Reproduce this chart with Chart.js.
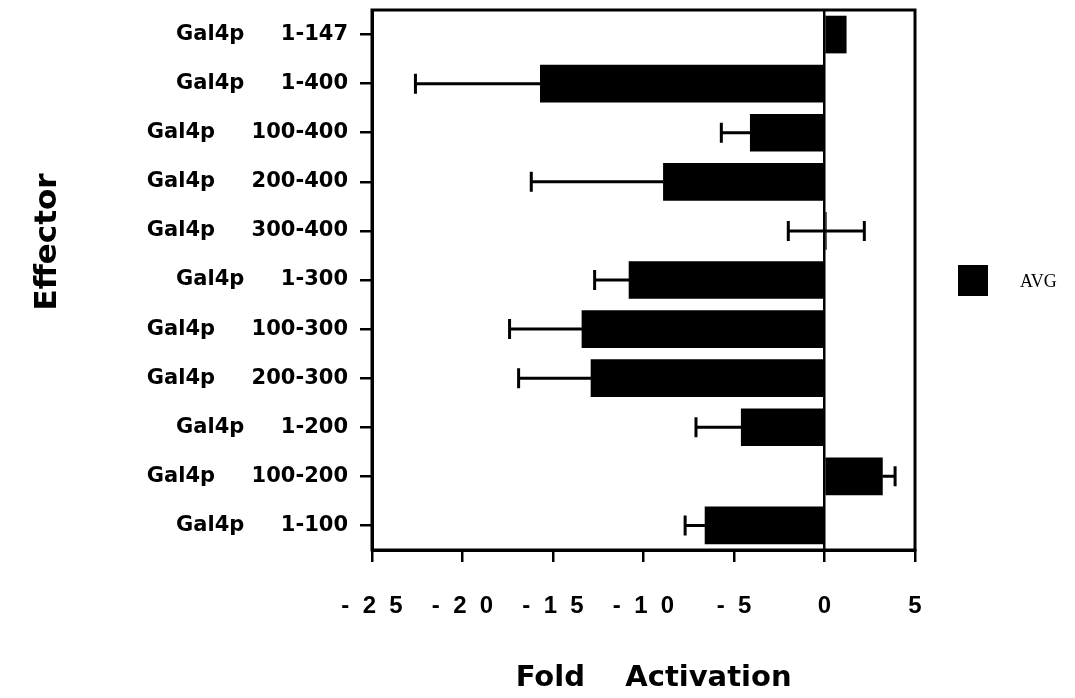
<!DOCTYPE html>
<html>
<head>
<meta charset="utf-8">
<script src="https://cdn.jsdelivr.net/npm/chart.js@4.4.1/dist/chart.umd.min.js"></script>
<style>
  body { margin: 0; background: #fff; }
  #wrap { width: 1075px; height: 698px; }
</style>
</head>
<body>
<div id="wrap"><canvas id="chart" width="1075" height="698"></canvas></div>
<script>
// effector constructs, top to bottom
const effectors = [
    'Gal4p     1-147',
    'Gal4p     1-400',
    'Gal4p     100-400',
    'Gal4p     200-400',
    'Gal4p     300-400',
    'Gal4p     1-300',
    'Gal4p     100-300',
    'Gal4p     200-300',
    'Gal4p     1-200',
    'Gal4p     100-200',
    'Gal4p     1-100'
];
// average fold activation
const avgValues = [1.2, -15.7, -4.1, -8.9, 0.1, -10.8, -13.4, -12.9, -4.6, 3.2, -6.6];
// error bar lengths (left side / right side)
const errMinus = [0, 6.9, 1.6, 7.3, 2.1, 1.9, 4.0, 4.0, 2.5, 0, 1.1];
const errPlus  = [0, 0, 0, 0, 2.1, 0, 0, 0, 0, 0.7, 0];
// x axis ticks as printed
const xTickText = {
    '-25': '-  2  5', '-20': '-  2  0', '-15': '-  1  5', '-10': '-  1  0',
    '-5': '-  5', '0': '0', '5': '5'
};

const boldFont = "'DejaVu Sans', sans-serif";
const helvFont = "'Liberation Sans', Arial, sans-serif";

// frame, error bars, legend and the y title
const extras = {
    id: 'extras',
    afterDatasetsDraw(chart) {
        const ctx = chart.ctx;
        const xs = chart.scales.x;
        const meta = chart.getDatasetMeta(0);
        ctx.save();
        ctx.strokeStyle = '#000';
        ctx.lineWidth = 3;
        meta.data.forEach((bar, i) => {
            const v = avgValues[i];
            const y = bar.y;
            const ends = [];
            if (errMinus[i] > 0) ends.push(v - errMinus[i]);
            if (errPlus[i] > 0) ends.push(v + errPlus[i]);
            ends.forEach(e => {
                const x0 = xs.getPixelForValue(v);
                const x1 = xs.getPixelForValue(e);
                ctx.beginPath();
                ctx.moveTo(x0, y);
                ctx.lineTo(x1, y);
                ctx.moveTo(x1, y - 10);
                ctx.lineTo(x1, y + 10);
                ctx.stroke();
            });
        });
        ctx.restore();
    },
    afterDraw(chart) {
        const ctx = chart.ctx;
        const a = chart.chartArea;
        ctx.save();
        ctx.strokeStyle = '#000';
        ctx.lineWidth = 3;
        ctx.strokeRect(a.left, a.top, a.right - a.left, a.bottom - a.top);

        // legend
        ctx.fillStyle = '#000';
        ctx.fillRect(a.right + 43, 265, 30, 31);
        ctx.font = "18px 'Liberation Serif', serif";
        ctx.textBaseline = 'middle';
        ctx.fillText('AVG', a.right + 105, 282);

        // y title
        ctx.translate(56, 242);
        ctx.rotate(-Math.PI / 2);
        ctx.font = "bold 31px " + boldFont;
        ctx.textAlign = 'center';
        ctx.textBaseline = 'alphabetic';
        ctx.fillText('Effector', 0, 0);
        ctx.restore();
    }
};

new Chart(document.getElementById('chart'), {
    type: 'bar',
    data: {
        labels: effectors,
        datasets: [{
            label: 'AVG',
            data: avgValues,
            backgroundColor: '#000',
            borderWidth: 0,
            barThickness: 37
        }]
    },
    options: {
        indexAxis: 'y',
        responsive: false,
        animation: false,
        layout: { padding: { top: 10, right: 160, left: 0, bottom: 0 } },
        plugins: {
            legend: { display: false },
            tooltip: { enabled: false }
        },
        scales: {
            x: {
                min: -25,
                max: 5,
                afterFit(scale) { scale.height = 148; },
                ticks: {
                    stepSize: 5,
                    color: '#000',
                    padding: 30,
                    font: { family: helvFont, weight: 'bold', size: 24 },
                    callback: v => xTickText[String(v)] || String(v)
                },
                grid: {
                    drawOnChartArea: true,
                    color: c => (c.tick && c.tick.value === 0) ? '#000' : 'rgba(0,0,0,0)',
                    tickColor: '#000',
                    tickLength: 12,
                    lineWidth: 2.5
                },
                border: { display: true, color: '#000', width: 3 },
                title: {
                    display: true,
                    text: '  Fold    Activation',
                    color: '#000',
                    font: { family: boldFont, weight: 'bold', size: 29 },
                    padding: { top: 0, bottom: 2 }
                }
            },
            y: {
                afterFit(scale) {
                    scale.width = 372;
                    scale.paddingTop = 0;
                    scale.paddingBottom = 0;
                },
                ticks: {
                    color: '#000',
                    padding: 12,
                    font: { family: boldFont, weight: 'bold', size: 21 }
                },
                grid: {
                    offset: false,
                    drawOnChartArea: false,
                    tickColor: '#000',
                    tickLength: 12,
                    lineWidth: 2.5
                },
                border: { display: true, color: '#000', width: 3 }
            }
        }
    },
    plugins: [extras]
});
</script>
</body>
</html>
